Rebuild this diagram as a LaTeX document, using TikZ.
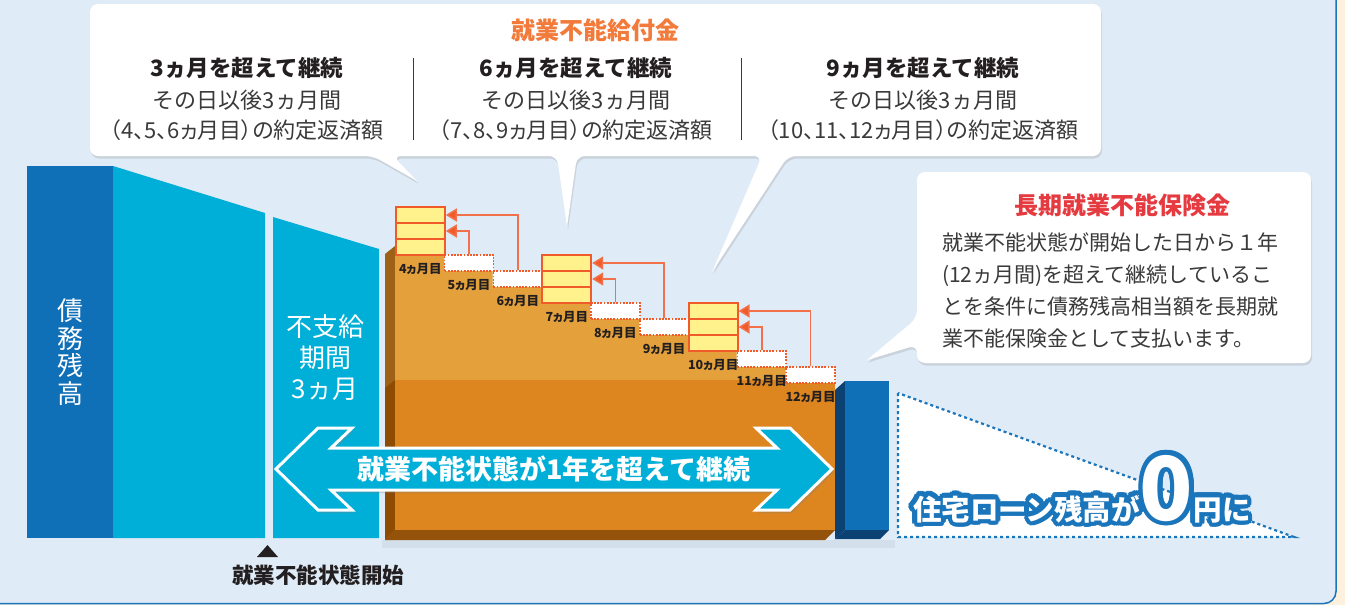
\documentclass[tikz,border=0pt]{standalone}
\usepackage{fontspec}
\setmainfont{Noto Sans CJK JP}
\newfontfamily\propfont{Noto Sans CJK JP}[RawFeature={+palt}]
\usetikzlibrary{arrows.meta,calc,shadows}
\definecolor{bgblue}{HTML}{DFEBF7}
\definecolor{cream}{HTML}{FDF1DE}
\definecolor{frameblue}{HTML}{1B75BB}
\definecolor{barblue}{HTML}{0F6FB7}
\definecolor{navyside}{HTML}{0B4173}
\definecolor{skyblue}{HTML}{00AFD8}
\definecolor{orangelight}{HTML}{E3A03B}
\definecolor{orangedark}{HTML}{DD851F}
\definecolor{orangeside}{HTML}{9E6216}
\definecolor{orangeside2}{HTML}{8E4B02}
\definecolor{orangebottom}{HTML}{94520A}
\definecolor{boxorange}{HTML}{F15A29}
\definecolor{paleyellow}{HTML}{FFF28C}
\definecolor{linkorange}{HTML}{F2714B}
\definecolor{titleorange}{HTML}{F27A3A}
\definecolor{titlered}{HTML}{E53A40}
\definecolor{darktext}{HTML}{231F20}
\definecolor{bodygray}{HTML}{3A3A3A}
\newcommand\fsz[1]{\fontsize{#1}{#1}\selectfont}

\begin{document}
\begin{tikzpicture}[x=1pt, y=-1pt,
  rowbox/.style={draw=boxorange, line width=2pt, fill=paleyellow, minimum width=48.8pt,
    minimum height=16pt, inner sep=0pt, anchor=north west},
  duebox/.style={draw=boxorange, line width=1.6pt, dash pattern=on 1.8pt off 1.4pt, fill=white,
    minimum width=48.8pt, minimum height=16pt, inner sep=0pt, anchor=north west},
  monthlbl/.style={font=\propfont\bfseries\fsz{12.5}, text=darktext, inner sep=0pt},
  payarrow/.style={draw=linkorange, line width=1.5pt, -{Triangle[length=11pt,width=13pt,fill=boxorange]}},
  bubble/.style={fill=white, drop shadow={opacity=.22, shadow xshift=1pt, shadow yshift=-2.5pt}},
  ]
\useasboundingbox (0,0) rectangle (1345,605);
\fill[cream] (0,0) rectangle (1345,605); % фон
\fill[bgblue, rounded corners=12pt] (-30,-30) rectangle (1336,603.5);
\draw[frameblue, line width=1.5pt, rounded corners=12pt] (1336,-30) -- (1336,603.5) -- (-30,603.5);

% остаток долга
\fill[barblue] (27,166) rectangle (113,538);
\fill[skyblue] (113,166) -- (265,213) -- (265,538) -- (113,538) -- cycle;
\fill[skyblue] (273,217) -- (379,249) -- (379,538) -- (273,538) -- cycle;
\node[text=white, font=\fontsize{26}{27.5}\selectfont, align=center] (debt) at (70,352) {債\\務\\残\\高};
\node[text=white, font=\fontsize{26}{31}\selectfont, align=center] (nopay) at (325,358) {不支給\\期間\\3ヵ月};
\fill[darktext] (267.5,545) -- (278,557) -- (257,557) -- cycle; % метка начала
\node[font=\bfseries\fsz{21.5}, text=darktext, anchor=base] (start) at (318,583) {就業不能状態開始};

% оранжевый блок
\fill[black, opacity=.05] (382,540) rectangle (895,548);
\fill[orangeside] (385,254) -- (395,246) -- (395,530) -- (385,540) -- cycle;
\fill[orangeside2] (385,388) -- (395,380) -- (395,530) -- (385,540) -- cycle;
\fill[orangebottom] (385,540) -- (395,530) -- (835,530) -- (825,540) -- cycle;
\fill[orangelight] (395,254) \foreach \c in {1,...,9} { -- ({395+\c*48.8},{254+16*(\c-1)}) -- ({395+\c*48.8},{254+16*\c}) } -- (395,398) -- cycle;
\fill[orangedark] (395,380) rectangle (835,530);

% ступеньки по месяцам
\foreach \i in {0,1,2} {
  \pgfmathtruncatemacro\ma{4+3*\i}
  \pgfmathtruncatemacro\mb{5+3*\i}
  \pgfmathtruncatemacro\mc{6+3*\i}
  \pgfmathsetmacro\xa{395+3*\i*48.8}
  \pgfmathsetmacro\ya{206+48*\i}
  \node[rowbox] (top\ma) at (\xa,\ya) {};
  \node[rowbox] (mid\ma) at (\xa,\ya+16) {};
  \node[rowbox] (low\ma) at (\xa,\ya+32) {};
  \node[duebox] (m\mb) at (\xa+48.8,\ya+48) {};
  \node[duebox] (m\mc) at (\xa+97.6,\ya+64) {};
  \draw[payarrow] (m\mb.north) |- (mid\ma.east);
  \draw[payarrow] (m\mc.north) |- (top\ma.east);
  \node[monthlbl] (l\ma) at ([yshift=-13pt]low\ma.south) {\ma ヵ月目};
  \node[monthlbl] (l\mb) at ([yshift=-13pt]m\mb.south) {\mb ヵ月目};
  \node[monthlbl] (l\mc) at ([yshift=-13pt]m\mc.south) {\mc ヵ月目};
}

% синий столбик справа
\fill[navyside] (835,390) -- (845,381) -- (845,530) -- (835,539) -- cycle;
\fill[navyside] (835,539) -- (845,530) -- (889,530) -- (880,539) -- cycle;
\fill[barblue] (845,381) rectangle (889,530);

% треугольник и надпись
\filldraw[fill=white, draw=frameblue, line width=2.2pt, dash pattern=on 3pt off 3pt] (898,393) -- (898,537) -- (1294,537) -- cycle;
\coordinate (zeroat) at (1082,520);
\foreach \a in {0,22.5,...,337.5}
  \node[text=frameblue, anchor=base, inner sep=0pt, font=\bfseries\fsz{28.5}] at ([shift={(\a:4.8pt)}]zeroat) {住宅ローン残高が{\fsz{88}0}円に};
\node[text=white, anchor=base, inner sep=0pt, font=\bfseries\fsz{28.5}] (zero) at (zeroat) {住宅ローン残高が{\fsz{88}0}円に};

% двойная стрелка
\filldraw[fill=skyblue, draw=white, line width=3pt, line join=miter,
  drop shadow={opacity=.3, shadow xshift=2pt, shadow yshift=-3pt}]
  (276,469) -- (318,428) -- (352,428) -- (331,448) -- (777,448) -- (756,428) -- (790,428) -- (832,469)
  -- (790,510) -- (756,510) -- (777,490) -- (331,490) -- (352,510) -- (318,510) -- cycle;
\node[text=white, font=\bfseries\fsz{27}, anchor=base] (year) at (554,479) {就業不能状態が1年を超えて継続};

% верхняя выноска
\fill[bubble, rounded corners=8pt] (90,4) -- (1101,4) -- (1101,156) -- (788,156) [sharp corners] -- (712,272) [rounded corners=8pt] -- (762,156)
  -- (577,156) [sharp corners] -- (567,227) [rounded corners=8pt] -- (557,156)
  -- (393,156) [sharp corners] -- (417,181) [rounded corners=8pt] -- (373,156) -- (90,156) -- cycle;
\draw[bodygray, line width=1pt] (413,58) -- (413,140);
\draw[bodygray, line width=1pt] (741,58) -- (741,140);
\node[font=\bfseries\fsz{24}, text=titleorange, anchor=base] (benefit) at (595,39) {就業不能給付金};
\foreach \cx/\hd/\rg [count=\k] in {247/3ヵ月を超えて継続/（4、5、6ヵ月目）, 576/6ヵ月を超えて継続/（7、8、9ヵ月目）, 923/9ヵ月を超えて継続/（10、11、12ヵ月目）} {
  \node[font=\bfseries\fsz{22.5}, text=darktext, anchor=base] (head\k) at (\cx,76) {\hd};
  \node[font=\fsz{22}, text=bodygray, anchor=base] (after\k) at (\cx,108) {その日以後3ヵ月間};
  \node[font=\propfont\fsz{22}, text=bodygray, anchor=base] (paid\k) at (\cx,138) {\rg の約定返済額};
}

% правая выноска
\fill[bubble, rounded corners=8pt] (917,172) -- (1311,172) -- (1311,363) -- (917,363) -- (917,345) [sharp corners] -- (867,360) [rounded corners=8pt] -- (917,318) -- cycle;
\node[font=\bfseries\fsz{24}, text=titlered, anchor=base] (longterm) at (1122,214) {長期就業不能保険金};
\foreach \t [count=\k] in {就業不能状態が開始した日から１年, (12ヵ月間)を超えて継続しているこ, とを条件に債務残高相当額を長期就, 業不能保険金として支払います。}
  \node[font=\fsz{21}, text=bodygray, anchor=base west, inner sep=0pt] (body\k) at (942,{250+32*(\k-1)}) {\t};
\end{tikzpicture}
\end{document}
